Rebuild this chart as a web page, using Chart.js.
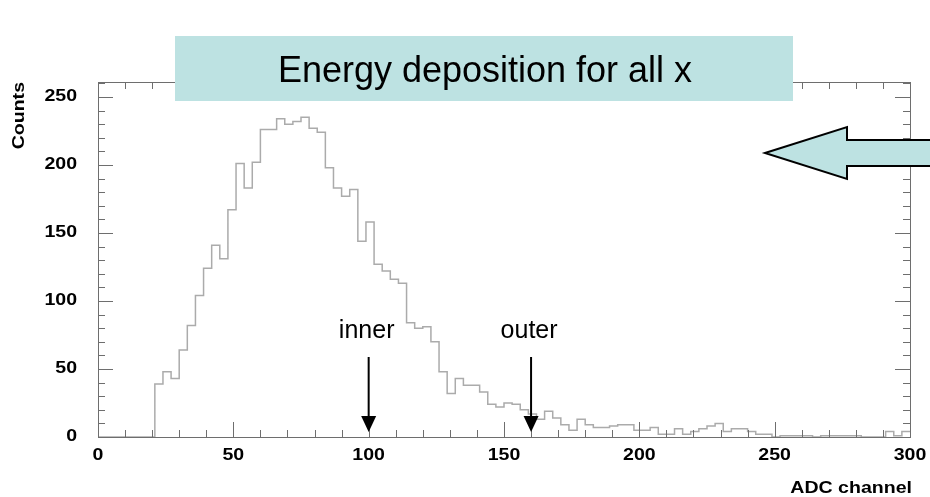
<!DOCTYPE html>
<html>
<head>
<meta charset="utf-8">
<script src="https://cdn.jsdelivr.net/npm/chart.js@4/dist/chart.umd.min.js"></script>
<style>
  html, body { margin: 0; padding: 0; background: #fff; }
  #wrap { position: relative; width: 930px; height: 497px; }
</style>
</head>
<body>
<div id="wrap"><canvas id="c" width="930" height="497"></canvas></div>
<script>
// ADC 스펙트럼 — 3채널 폭 bin, 0~300
const BIN = 3;
const COUNTS = [
  0, 0, 0, 0, 0, 0, 0,
  39, 48, 43, 64, 82, 104, 124, 141, 131, 167,
  201, 183, 202, 226, 226, 234, 230, 232, 235, 227,
  224, 198, 183, 177, 182, 144, 158, 127, 122, 116,
  113, 84, 80, 81, 70, 48, 32, 43, 38, 38,
  33, 24, 22, 25, 24, 20, 17, 13, 19, 14,
  9, 5, 13, 9, 7, 7, 8, 9, 9, 5,
  5, 7, 2, 2, 6, 2, 4, 6, 8, 10,
  4, 6, 6, 4, 2, 2, 0, 1, 1, 1,
  1, 0, 1, 1, 1, 1, 1, 0, 0, 0,
  4, 1, 4,
];
const X_TICKS = [0, 50, 100, 150, 200, 250, 300];
const Y_TICKS = [0, 50, 100, 150, 200, 250];
const MARKERS = [ { label: 'inner', x: 100 }, { label: 'outer', x: 160 } ];
const TITLE = 'Energy deposition for all x';

const FONT = '"Liberation Sans", Arial, Helvetica, sans-serif';
const TEAL = '#bde2e2';

const pts = COUNTS.map((v, i) => ({ x: i * BIN, y: v }));
pts.push({ x: COUNTS.length * BIN, y: COUNTS[COUNTS.length - 1] });

const decor = {
  id: 'decor',
  afterDraw(chart) {
    const { ctx, chartArea: a, scales: { x, y } } = chart;
    ctx.save();

    // frame
    ctx.strokeStyle = '#6e6e6e';
    ctx.lineWidth = 1;
    ctx.strokeRect(a.left + 0.5, a.top + 0.5, a.right - a.left, a.bottom - a.top);

    // ticks inside the frame (major 50, minor 10)
    ctx.beginPath();
    for (let v = 0; v <= 300; v += 10) {
      const px = Math.round(x.getPixelForValue(v)) + 0.5;
      const len = v % 50 === 0 ? 15 : 7;
      ctx.moveTo(px, a.bottom); ctx.lineTo(px, a.bottom - len);
      ctx.moveTo(px, a.top); ctx.lineTo(px, a.top + len);
    }
    for (let v = 0; v <= 260; v += 10) {
      const py = Math.round(y.getPixelForValue(v)) + 0.5;
      const len = v % 50 === 0 ? 15 : 7;
      ctx.moveTo(a.left, py); ctx.lineTo(a.left + len, py);
      ctx.moveTo(a.right, py); ctx.lineTo(a.right - len, py);
    }
    ctx.stroke();

    // tick labels (ROOT 스타일 굵은 글씨)
    ctx.fillStyle = '#000';
    ctx.font = 'bold 17px ' + FONT;
    ctx.textBaseline = 'middle';
    const wide = (txt, px, py, align) => {
      ctx.save();
      ctx.translate(px, py);
      ctx.scale(1.15, 1);
      ctx.textAlign = align;
      ctx.fillText(txt, 0, 0);
      ctx.restore();
    };
    Y_TICKS.forEach(v => wide(String(v), 77, y.getPixelForValue(v) - 1, 'right'));
    X_TICKS.forEach(v => wide(String(v), x.getPixelForValue(v), 455, 'center'));
    wide('ADC channel', 912, 488, 'right');

    ctx.save();
    ctx.translate(19, 82);
    ctx.rotate(-Math.PI / 2);
    ctx.scale(1.15, 1);
    ctx.textAlign = 'right';
    ctx.fillText('Counts', 0, 0);
    ctx.restore();

    // title box
    ctx.fillStyle = TEAL;
    ctx.fillRect(175, 36, 618, 65);
    ctx.fillStyle = '#000';
    ctx.font = '36px ' + FONT;
    ctx.textAlign = 'center';
    ctx.textBaseline = 'alphabetic';
    ctx.fillText(TITLE, 485, 82);

    // big arrow on the right
    ctx.beginPath();
    ctx.moveTo(765, 153);
    ctx.lineTo(847, 127);
    ctx.lineTo(847, 140);
    ctx.lineTo(932, 140);
    ctx.lineTo(932, 166);
    ctx.lineTo(847, 166);
    ctx.lineTo(847, 179);
    ctx.closePath();
    ctx.fillStyle = TEAL;
    ctx.fill();
    ctx.strokeStyle = '#000';
    ctx.lineWidth = 2;
    ctx.stroke();

    // inner / outer markers
    ctx.font = '25px ' + FONT;
    ctx.lineWidth = 2;
    MARKERS.forEach(m => {
      const px = x.getPixelForValue(m.x);
      ctx.fillStyle = '#000';
      ctx.textAlign = 'center';
      ctx.fillText(m.label, px - 2, 338);
      ctx.beginPath();
      ctx.moveTo(px, 357);
      ctx.lineTo(px, 420);
      ctx.stroke();
      ctx.beginPath();
      ctx.moveTo(px - 7.5, 416);
      ctx.lineTo(px + 7.5, 416);
      ctx.lineTo(px, 432);
      ctx.closePath();
      ctx.fill();
    });

    ctx.restore();
  },
};

new Chart(document.getElementById('c'), {
  type: 'line',
  data: {
    datasets: [{
      data: pts,
      stepped: 'before',
      borderColor: '#ababab',
      borderWidth: 1.5,
      pointRadius: 0,
      fill: false,
    }],
  },
  options: {
    responsive: false,
    animation: false,
    events: [],
    layout: { padding: { left: 98, right: 20, top: 82, bottom: 60 } },
    plugins: { legend: { display: false }, tooltip: { enabled: false } },
    scales: {
      x: { type: 'linear', min: 0, max: 300, display: false },
      y: { min: 0, max: 261, display: false },
    },
  },
  plugins: [decor],
});
</script>
</body>
</html>
